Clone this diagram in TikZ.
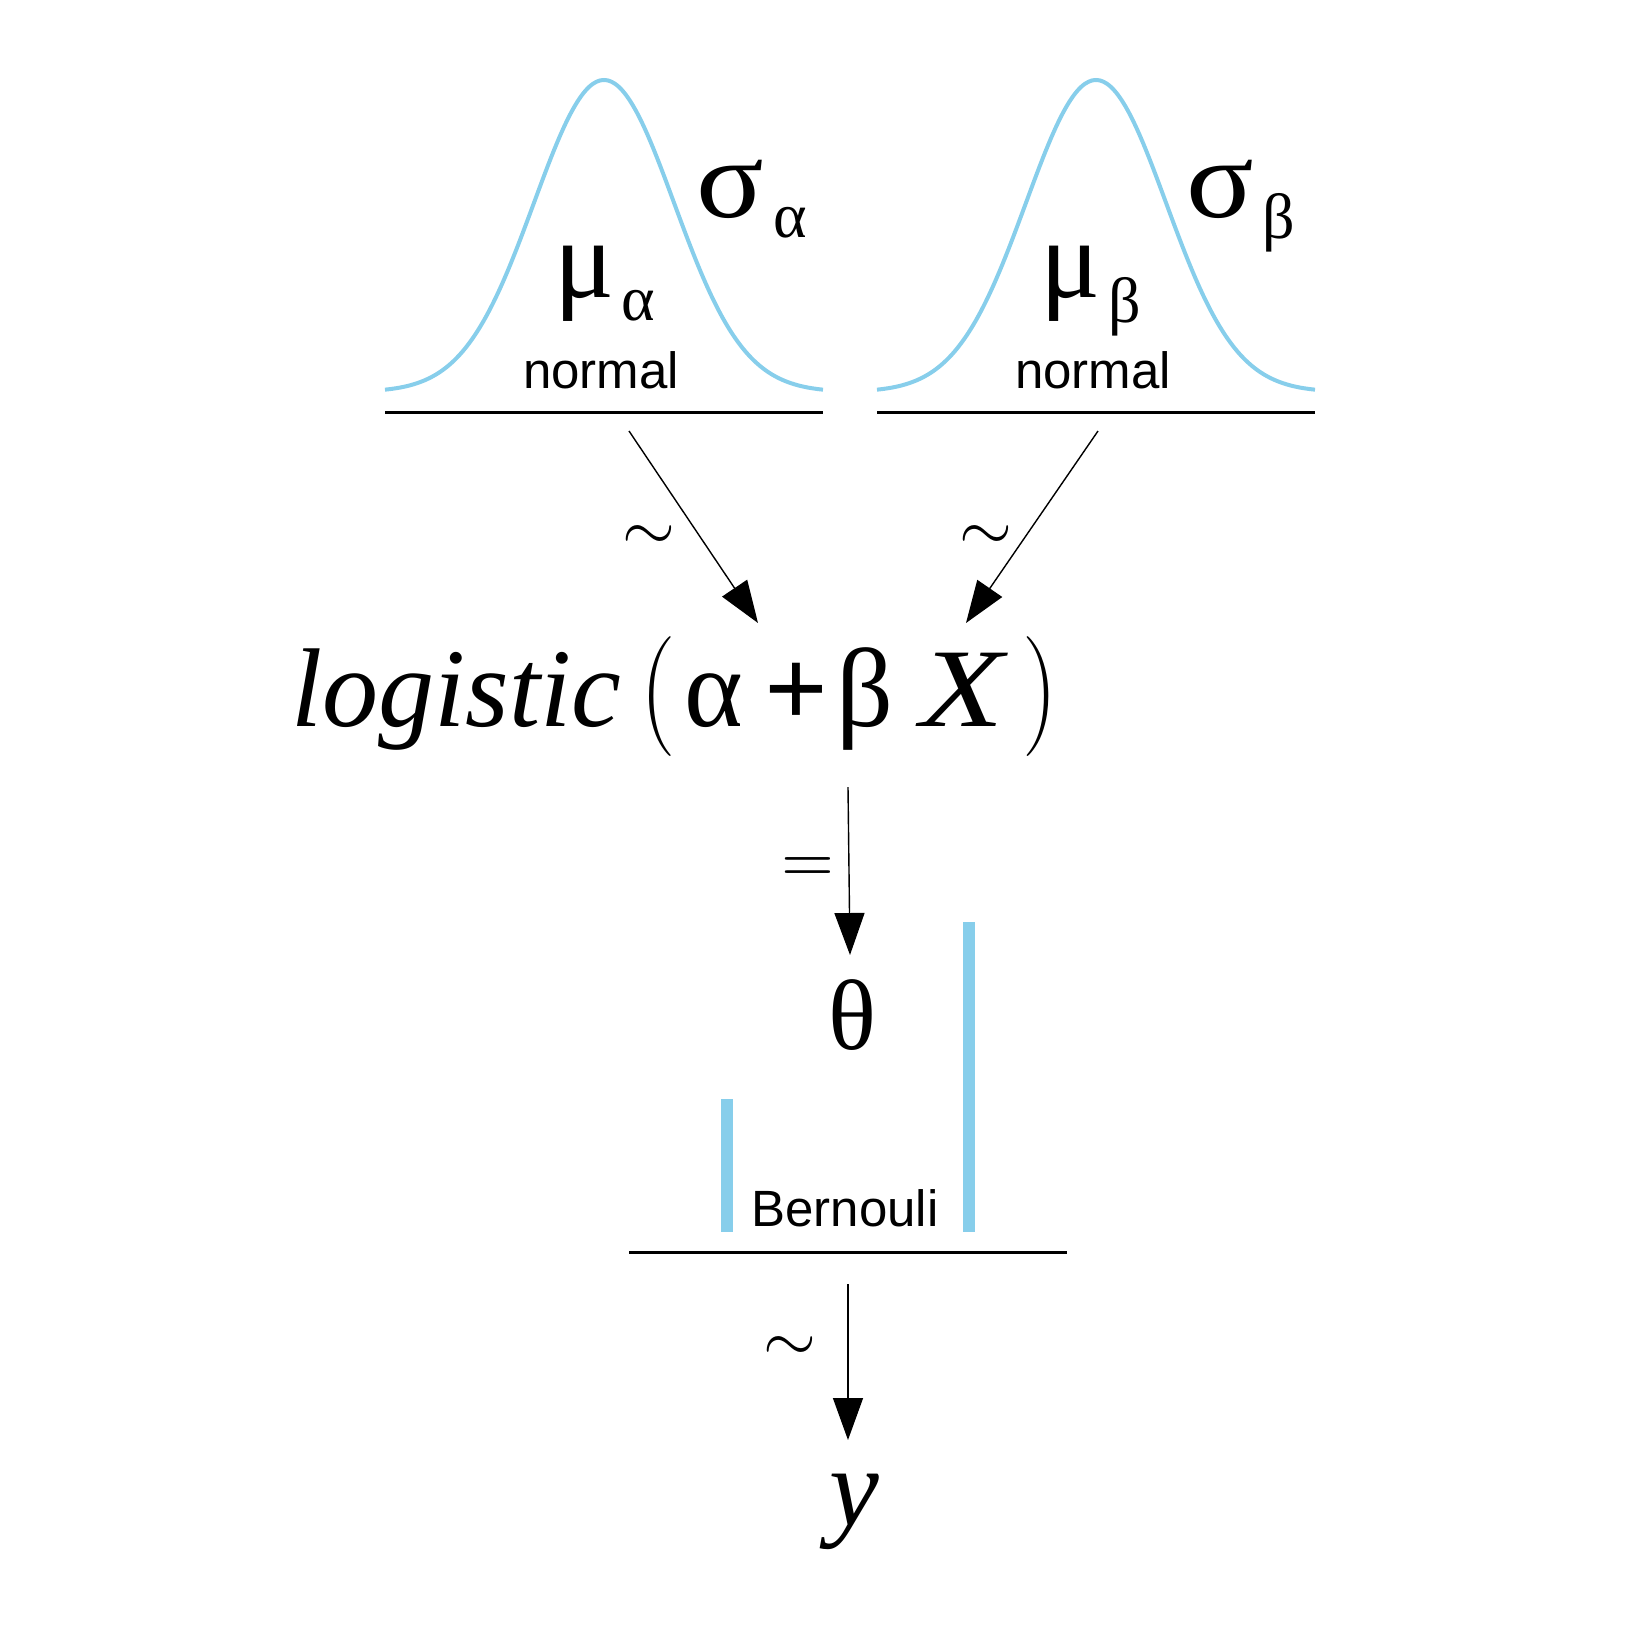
\documentclass[tikz,border=0pt]{standalone}
\usepackage{fontspec}
\setmainfont{Liberation Serif}
\newfontfamily\helv{Liberation Sans}
\usetikzlibrary{arrows.meta}
\definecolor{skyb}{RGB}{135,206,235}
\tikzset{
  gbig/.style={inner sep=0pt, anchor=base west, font=\fontsize{56}{60}\selectfont},
  gsub/.style={inner sep=0pt, anchor=base west, font=\fontsize{32}{36}\selectfont},
  distname/.style={inner sep=0pt, anchor=base, font=\helv\fontsize{25.5}{30}\selectfont},
  formula/.style={inner sep=0pt, anchor=base west, font=\fontsize{56}{60}\selectfont},
  paren/.style={inner sep=0pt, anchor=base west, font=\fontfamily{lmr}\fontsize{50}{60}\selectfont},
  rel/.style={inner sep=0pt, font=\normalsize},
  arr/.style={line width=0.7pt, -{Triangle[length=21pt,width=15pt]}},
  baseline/.style={line width=1.5pt},
  curve/.style={skyb, line width=2pt},
  bar/.style={skyb, line width=6pt}
}
\newcommand{\bigrel}[1]{\scalebox{3.4}{$#1$}}
\newcommand{\tallparen}[1]{\scalebox{1}[1.2]{#1}}
\begin{document}
\begin{tikzpicture}[x=0.5pt,y=-0.5pt]
\useasboundingbox (0,0) rectangle (1650,1650);

% --- left normal prior ---
\draw[curve] plot[domain=-219:219, samples=121, smooth]
  ({604+\x},{392-312*exp(-((\x/70)*(\x/70))/2)});
\draw[baseline] (385,412) -- (823,412);
\node[gbig] (muA) at (554,297) {μ};
\node[gsub] (muAsub) at (621,320) {α};
\node[gbig] (sigA) at (696,217) {\scalebox{1.12}[1]{σ}};
\node[gsub] (sigAsub) at (773,237) {α};
\node[distname] (normA) at (601,388) {normal};

% --- right normal prior ---
\draw[curve] plot[domain=-219:219, samples=121, smooth]
  ({1096+\x},{392-312*exp(-((\x/70)*(\x/70))/2)});
\draw[baseline] (877,412) -- (1315,412);
\node[gbig] (muB) at (1040,297) {μ};
\node[gsub] (muBsub) at (1108,322) {β};
\node[gbig] (sigB) at (1186,217) {\scalebox{1.12}[1]{σ}};
\node[gsub] (sigBsub) at (1262,238) {β};
\node[distname] (normB) at (1093,388) {normal};

% --- formula ---
\node[formula] (logi) at (291,726) {\itshape logistic};
\node[paren] (lp) at (640,726) {\tallparen{(}};
\node[formula] (alpha) at (684,726) {α};
\node[formula] (plus) at (764,726) {\bfseries +};
\node[formula] (beta) at (836,726) {β};
\node[formula] (X) at (920,726) {\itshape\scalebox{1.22}[1]{X}};
\node[paren] (rp) at (1022,726) {\tallparen{)}};

% --- arrows to formula ---
\coordinate (s1) at (629,431);
\coordinate (t1) at (758,623);
\coordinate (s2) at (1098,431);
\coordinate (t2) at (966,623);
\draw[arr] (s1) -- (t1);
\draw[arr] (s2) -- (t2);
\node[rel] (til1) at (649,538) {\bigrel{\sim}};
\node[rel] (til2) at (986,538) {\bigrel{\sim}};

% --- theta ---
\node[inner sep=0pt, anchor=base west, font=\fontsize{50}{56}\selectfont] (theta) at (828,1049) {θ};
\coordinate (s3) at (848,787);
\coordinate (t3) at (850,955);
\draw[arr] (s3) -- (t3);
\node[rel] (eq) at (808,870) {\bigrel{=}};

% --- Bernoulli ---
\draw[bar] (727,1099) -- (727,1232);
\draw[bar] (969,922) -- (969,1232);
\node[distname] (bern) at (845,1226) {Bernouli};
\draw[baseline] (629,1252) -- (1067,1252);

% --- y ---
\node[inner sep=0pt, anchor=base west, font=\fontsize{56}{60}\selectfont\itshape] (yy) at (829,1525) {y};
\coordinate (s4) at (848,1284);
\coordinate (t4) at (848,1440);
\draw[arr] (s4) -- (t4);
\node[rel] (til3) at (790,1349) {\bigrel{\sim}};
\end{tikzpicture}
\end{document}
